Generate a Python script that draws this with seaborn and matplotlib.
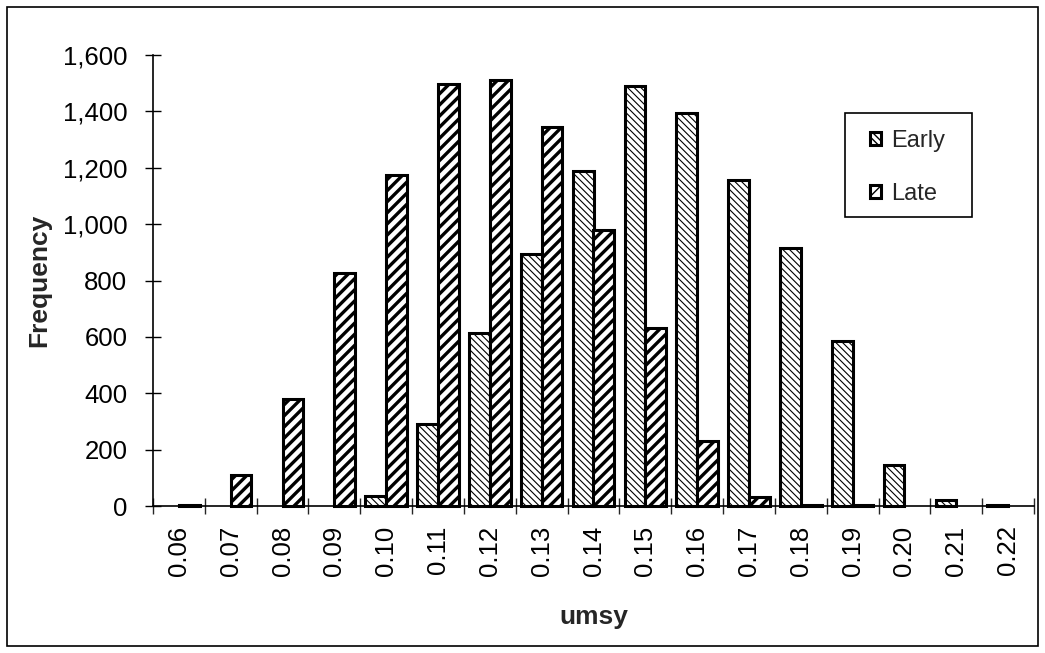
import numpy as np
import pandas as pd
import matplotlib
matplotlib.use("Agg")
import matplotlib.pyplot as plt
import seaborn as sns
from matplotlib.patches import Patch, Rectangle
from matplotlib.ticker import FuncFormatter

# data
umsy = ["0.06", "0.07", "0.08", "0.09", "0.10", "0.11", "0.12", "0.13", "0.14",
        "0.15", "0.16", "0.17", "0.18", "0.19", "0.20", "0.21", "0.22"]
early = [0, 0, 0, 0, 35, 290, 615, 895, 1188, 1490, 1396, 1155, 915, 585, 145, 22, 2]
late = [2, 110, 380, 825, 1175, 1496, 1512, 1345, 980, 630, 230, 33, 2, 2, 0, 0, 0]
periods = ["Early", "Late"]
hatches = {"Early": "\\\\\\\\\\", "Late": "///"}
hatch_lw = {"Early": 0.8, "Late": 2.4}

df = pd.DataFrame({"umsy": umsy * 2,
                   "period": ["Early"] * len(umsy) + ["Late"] * len(umsy),
                   "count": early + late})
# bars that are truly empty are not drawn at all in the original
plot_df = df[df["count"] > 0]

sns.set_style("white")
plt.rcParams["font.family"] = ["Liberation Sans", "DejaVu Sans"]

fig = plt.figure(figsize=(10.45, 6.53), dpi=100)
ax = fig.add_axes([153 / 1045, 1 - 506 / 653, 881 / 1045, 451 / 653])

sns.barplot(data=plot_df, x="umsy", y="count", hue="period", order=umsy,
            hue_order=periods, palette={"Early": "white", "Late": "white"},
            edgecolor="black", linewidth=2.2, width=0.8, ax=ax, legend=False)

for cont, per in zip(ax.containers, periods):
    for p in cont:
        p.set_hatch(hatches[per])
        p.set_clip_on(False)
        if hasattr(p, "set_hatch_linewidth"):
            p.set_hatch_linewidth(hatch_lw[per])
        else:
            p._hatch_linewidth = hatch_lw[per]

ax.set_xlim(-0.5, len(umsy) - 0.5)
ax.set_ylim(0, 1600)
ax.set_yticks(np.arange(0, 1601, 200))
ax.yaxis.set_major_formatter(FuncFormatter(lambda v, _: f"{v:,.0f}"))
ax.tick_params(axis="y", direction="inout", length=11, width=1, pad=13,
               labelsize=18.5, left=True, colors="black")

# labels at centres, tick marks at the category boundaries
ax.set_xticks(range(len(umsy)))
ax.set_xticklabels(umsy, rotation=90)
ax.set_xticks(np.arange(-0.5, len(umsy), 1.0), minor=True)
ax.tick_params(axis="x", which="major", length=0, pad=14, labelsize=18.5,
               colors="black")
ax.tick_params(axis="x", which="minor", direction="inout", length=12,
               width=1, bottom=True)

for s in ["top", "right"]:
    ax.spines[s].set_visible(False)
for s in ["left", "bottom"]:
    ax.spines[s].set_color("black")
    ax.spines[s].set_linewidth(1.2)
ax.grid(False)

ax.set_xlabel("umsy", fontsize=19, fontweight="bold", labelpad=21)
ax.set_ylabel("Frequency", fontsize=19, fontweight="bold", labelpad=8)

# legend: entries without frame, frame drawn as its own box
handles = [Patch(facecolor="white", edgecolor="black", hatch=hatches[p],
                 linewidth=2.2, label=p) for p in periods]
leg = fig.legend(handles=handles, loc="upper left",
                 bbox_to_anchor=(870 / 1045, 1 - 130 / 653), fontsize=17,
                 frameon=False, handlelength=0.45, handleheight=0.45,
                 handletextpad=0.45, labelspacing=1.3, borderpad=0,
                 borderaxespad=0)
fig.patches.append(Rectangle((845 / 1045, 1 - 217 / 653), 127 / 1045, 104 / 653,
                             transform=fig.transFigure, fill=False,
                             edgecolor="black", linewidth=1.2))

# outer chart border
fig.patches.append(Rectangle((7 / 1045, 7 / 653), 1031 / 1045, 639 / 653,
                             transform=fig.transFigure, fill=False,
                             edgecolor="black", linewidth=1.2))

fig.savefig("out.png", dpi=100)
